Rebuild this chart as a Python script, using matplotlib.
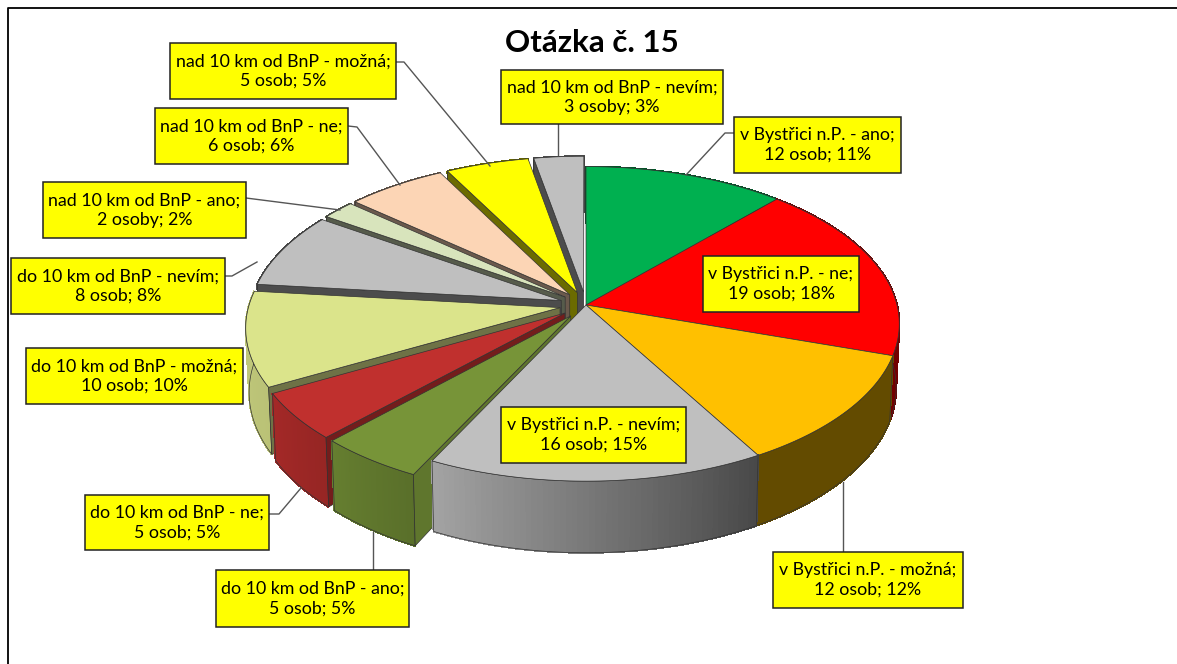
import numpy as np
import matplotlib
matplotlib.use("Agg")
import matplotlib.pyplot as plt
from matplotlib.colors import to_rgb
from matplotlib.patches import Polygon, Rectangle

plt.rcParams['font.family'] = ['Lato', 'DejaVu Sans']

# data
kategorie = ["v Bystřici n.P. - ano", "v Bystřici n.P. - ne", "v Bystřici n.P. - možná",
             "v Bystřici n.P. - nevím", "do 10 km od BnP - ano", "do 10 km od BnP - ne",
             "do 10 km od BnP - možná", "do 10 km od BnP - nevím", "nad 10 km od BnP - ano",
             "nad 10 km od BnP - ne", "nad 10 km od BnP - možná", "nad 10 km od BnP - nevím"]
osoby = [12, 19, 12, 16, 5, 5, 10, 8, 2, 6, 5, 3]
jednotky = ["osob", "osob", "osob", "osob", "osob", "osob", "osob", "osob", "osoby", "osob", "osob", "osoby"]
procenta = [11, 18, 12, 15, 5, 5, 10, 8, 2, 6, 5, 3]

# styl
barvy = ["#00B050", "#FF0000", "#FFC000", "#BFBFBF", "#779438", "#C0302E",
         "#DBE48B", "#BFBFBF", "#D8E4BC", "#FCD5B5", "#FFFF00", "#BFBFBF"]
vysun = [0, 0, 0, 0, .085, .085, .085, .085, .085, .085, .085, .085]
stin_bok = [(.5, .5), (.45, .45), (.39, .39), (.85, .38), (.85, .75), (.85, .78),
            (.88, .85), (.4, .4), (.4, .4), (.42, .42), (.42, .42), (.4, .4)]
stin_hrana = [.5, .5, .5, .5, .8, .6, .5, .4, .4, .42, .42, .4]

# pozice popisku v pixelech: x0, y0, x1, y1
boxy = [(734, 117, 901, 173), (703, 256, 859, 312), (773, 552, 963, 608), (501, 407, 686, 463),
        (216, 570, 409, 627), (85, 495, 269, 550), (26, 348, 243, 404), (11, 258, 225, 314),
        (43, 182, 246, 238), (155, 108, 348, 164), (170, 43, 396, 99), (501, 70, 723, 124)]
vodici = [[(734, 133), (725, 133), (686, 175)], None, [(843, 552), (843, 482)], None,
          [(373, 570), (373, 532)], [(269, 514), (279, 514), (301, 488)], None,
          [(225, 276), (232, 276), (257, 262)], [(246, 198), (340, 210)],
          [(348, 126), (357, 127), (400, 185)], [(396, 62), (404, 62), (490, 166)],
          [(558, 124), (558, 155)]]

cx, cy = 586, 305
rx, ry = 311, 155
k = 0.12
hloubka = 63


def projekce(X, Y):
    s = 1 / (1 + k * Y)
    return cx + rx * X * s, cy - ry * Y * s, s


def horni(X, Y):
    x, y, s = projekce(X, Y)
    return np.column_stack([x, y])


def dolni(X, Y):
    x, y, s = projekce(X, Y)
    return np.column_stack([cx + (x - cx) * 0.99, y + hloubka * s])


def tmava(barva, f):
    return tuple(c * f for c in to_rgb(barva))


fig = plt.figure(figsize=(11.77, 6.64), dpi=100)
ax = fig.add_axes([0, 0, 1, 1])
ax.set_xlim(0, 1177)
ax.set_ylim(664, 0)
ax.axis("off")

# ramecek
ax.plot([8, 8, 1177], [664, 8, 8], color="black", lw=1.3, zorder=1)

hrany = np.cumsum([0] + osoby) / sum(osoby) * 2 * np.pi
z = 2
# odzadu dopredu
for i in [11, 10, 9, 8, 7, 6, 5, 4, 0, 1, 2, 3]:
    a0, a1 = hrany[i], hrany[i + 1]
    stred = (a0 + a1) / 2
    dx, dy = vysun[i] * np.sin(stred), vysun[i] * np.cos(stred)
    t = np.linspace(a0, a1, 60)
    X = np.sin(t) + dx
    Y = np.cos(t) + dy

    # bok s prechodem
    top, bot = horni(X, Y), dolni(X, Y)
    for j in range(len(t) - 1):
        f = stin_bok[i][0] + (stin_bok[i][1] - stin_bok[i][0]) * j / (len(t) - 2)
        if X[0] > X[-1]:
            f = stin_bok[i][1] + (stin_bok[i][0] - stin_bok[i][1]) * j / (len(t) - 2)
        c = tmava(barvy[i], f)
        ax.add_patch(Polygon([top[j], top[j + 1], bot[j + 1], bot[j]], fc=c, ec=c, lw=0.8,
                             antialiased=False, zorder=z))
    z += 1
    ax.add_patch(Polygon(np.vstack([top, bot[::-1]]), fill=False, ec="#333333", lw=0.5, zorder=z))
    z += 1

    # radialni hrana
    if vysun[i] > 0:
        ex = np.array([dx, np.sin(a0) + dx])
        ey = np.array([dy, np.cos(a0) + dy])
        pts = np.vstack([horni(ex, ey), dolni(ex, ey)[::-1]])
        ax.add_patch(Polygon(pts, fc=tmava(barvy[i], stin_hrana[i]), ec="#333333", lw=0.5, zorder=z))
        z += 1

    # vrchni plocha
    vrch = np.vstack([horni(np.array([dx]), np.array([dy])), top])
    ax.add_patch(Polygon(vrch, fc=barvy[i], ec="#333333", lw=0.5, zorder=z))
    z += 1

# vodici cary
for cara in vodici:
    if cara:
        ax.plot([p[0] for p in cara], [p[1] for p in cara], color="#555555", lw=1, zorder=z)
z += 1

# popisky
for i, b in enumerate(boxy):
    ax.add_patch(Rectangle((b[0], b[1]), b[2] - b[0], b[3] - b[1], fc="#FFFF00", ec="#222222", lw=1.1, zorder=z))
    ax.text((b[0] + b[2]) / 2, (b[1] + b[3]) / 2, f"{kategorie[i]};\n{osoby[i]} {jednotky[i]}; {procenta[i]}%",
            ha="center", va="center", fontsize=12.8, linespacing=1.25, color="black", zorder=z + 1)

ax.text(592, 43, "Otázka č. 15", ha="center", va="center", fontsize=22.5, fontweight="bold", color="black", zorder=z)

fig.savefig("out.png", dpi=100)
